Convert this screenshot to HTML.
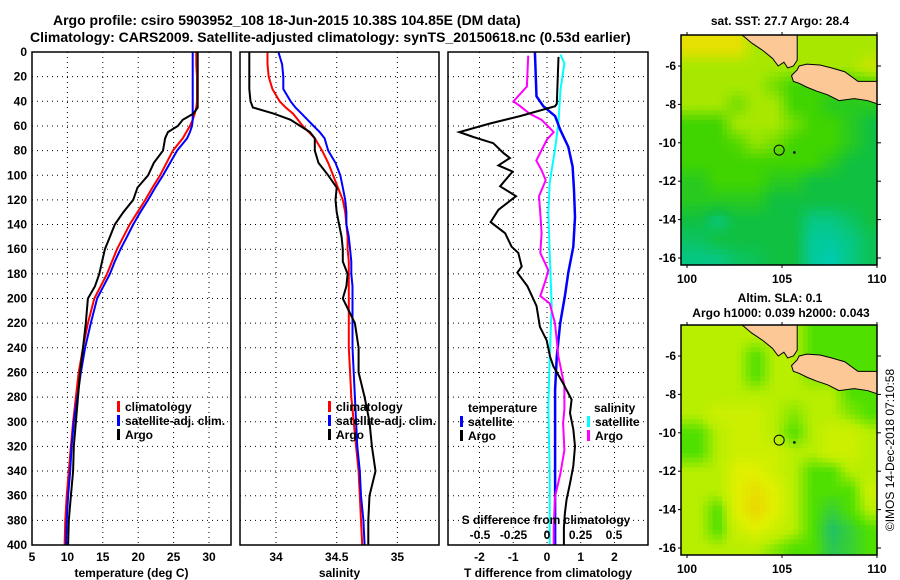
<!DOCTYPE html>
<html><head><meta charset="utf-8"><style>
body{margin:0;background:#fff;}
svg{display:block;font-family:"Liberation Sans",Arial,sans-serif;font-weight:bold;}
</style></head><body>
<svg id="fig" width="900" height="580" viewBox="0 0 900 580" xmlns="http://www.w3.org/2000/svg">
<rect width="900" height="580" fill="#fff"/>
<text x="53" y="25" font-size="14">Argo profile: csiro 5903952_108 18-Jun-2015 10.38S 104.85E (DM data)</text>
<text x="30" y="42" font-size="14">Climatology: CARS2009. Satellite-adjusted climatology: synTS_20150618.nc (0.53d earlier)</text>
<text x="780" y="25" font-size="12" text-anchor="middle">sat. SST: 27.7 Argo: 28.4</text>
<text x="780" y="302" font-size="12" text-anchor="middle">Altim. SLA: 0.1</text>
<text x="781" y="317" font-size="12" text-anchor="middle">Argo h1000: 0.039 h2000: 0.043</text>
<text transform="translate(894,450) rotate(-90)" font-size="12" font-weight="normal" text-anchor="middle">©IMOS 14-Dec-2018 07:10:58</text>
<g id="g"></g>
</svg>
<script>
// ---- data ----
const depths   = [0,10,20,30,40,45,50,55,60,65,70,80,90,100,110,120,130,140,150,160,170,180,190,200,220,240,260,280,300,320,340,360,380,400];
const tArgo    = [28.4,28.4,28.4,28.4,28.4,28.4,27.8,26.3,25.6,24.2,23.8,23.5,22.2,21.4,19.9,19.3,17.9,16.7,16.0,15.3,14.9,14.5,13.9,12.9,12.6,12.2,11.8,11.5,11.2,10.9,10.8,10.5,10.2,10.1];
const tClim    = [28.2,28.2,28.3,28.3,28.3,28.2,28.0,27.7,27.3,26.8,26.3,24.9,24.0,23.1,22.0,21.0,19.9,18.8,17.9,17.0,16.3,15.6,14.7,13.8,12.9,12.2,11.6,11.2,10.8,10.5,10.2,9.9,9.7,9.6];
const tSat     = [27.7,27.7,27.7,27.7,27.7,27.7,27.7,27.7,27.6,27.3,26.9,25.5,24.5,23.5,22.4,21.4,20.3,19.3,18.4,17.5,16.7,16.0,15.1,14.2,13.3,12.5,11.9,11.4,10.9,10.6,10.4,10.1,9.9,9.8];
const sArgo    = [33.78,33.78,33.78,33.78,33.79,33.81,33.98,34.12,34.20,34.28,34.32,34.32,34.35,34.43,34.50,34.49,34.50,34.52,34.54,34.55,34.55,34.59,34.58,34.55,34.65,34.68,34.68,34.73,34.77,34.79,34.82,34.77,34.76,34.76];
const sClim    = [33.93,33.93,33.94,33.97,34.03,34.08,34.14,34.18,34.22,34.27,34.32,34.38,34.43,34.47,34.51,34.55,34.57,34.58,34.59,34.59,34.60,34.60,34.60,34.60,34.60,34.60,34.61,34.62,34.64,34.66,34.68,34.69,34.70,34.71];
const sSat     = [34.02,34.05,34.06,34.06,34.12,34.16,34.21,34.26,34.31,34.36,34.40,34.43,34.49,34.53,34.55,34.57,34.58,34.58,34.60,34.61,34.62,34.62,34.63,34.63,34.63,34.63,34.64,34.65,34.66,34.67,34.69,34.70,34.72,34.73];
const dDepth   = [4,42,44,52,58,65,69,74,82,86,92,97,109,117,128,138,147,158,163,174,179,190,206,223,234,247,255,269,282,293,306,320,336,350,363,374,386,400];
const dTArgo   = [0.34,0.29,0.24,-0.8,-1.69,-2.6,-2.18,-1.59,-1.29,-1.1,-1.44,-1.02,-1.39,-0.92,-1.44,-1.67,-1.24,-1.05,-0.85,-0.75,-0.88,-0.58,-0.31,-0.21,-0.01,0.09,0.19,0.48,0.73,0.68,0.78,0.83,0.78,0.68,0.58,0.53,0.5,0.5];
const dTSatDep = [0,36,44,52,63,77,93,112,134,158,179,198,220,247,274,315,400];
const dTSat    = [-0.36,-0.31,-0.11,0.24,0.39,0.63,0.76,0.8,0.83,0.78,0.63,0.53,0.39,0.29,0.24,0.24,0.24];
const dSSatDep = [2,9,31,58,79,106,131,163,206,247,288,342,400];
const dSSat    = [0.10,0.13,0.10,0.085,0.06,0.02,0.01,0.02,0.035,0.02,0.01,0.02,0.02];
const dSArgoDep= [3,28,40,44,50,55,65,71,88,96,104,117,131,147,163,177,185,198,204,220,247,271,290,301,323,342,361,386,400];
const dSArgo   = [-0.14,-0.15,-0.25,-0.2,-0.13,-0.04,0.05,0,-0.08,-0.04,-0.01,-0.06,-0.05,-0.04,-0.05,0.01,-0.01,-0.05,0.02,0.06,0.085,0.13,0.13,0.12,0.13,0.1,0.06,0.05,0.05];
const depthTicks = [0,20,40,60,80,100,120,140,160,180,200,220,240,260,280,300,320,340,360,380,400];
const tTicks = [5,10,15,20,25,30];
const sTicks = [34,34.5,35];
const dtTicks = [-2,-1,0,1,2];
const dsTicks = [-0.5,-0.25,0,0.25,0.5];
const dsTickLabels = ["-0.5","-0.25","0","0.25","0.5"];
// map fields (1-degree cells, rows from -4.4 southward, cols from 100E)
const sstField = [
[0,0,0,1,1,1,1,1,1,1],[1,1,1,1,1,1,1,1,1,0.5],[1,1,1,1,1.5,2,2,2,2,2],[1,1,1.5,1,1,2,2,2.5,2.5,2.5],
[2,2,1,1,1,1.5,2,2,2.5,3],[2,2,1.8,1.2,1.5,2,2,2,2.5,3],[2,2,2,2,2,2,2,2.5,3,3],[2.5,2,2,2,2.5,2.5,3,3,3,3],
[2.5,2.5,2.5,2.5,3,3,3,3,3,3],[3,3.5,3,3,3,3,3.6,3.6,3.3,3],[3.3,3,3,3,3,3,3.8,3.8,3.6,3.2],[3.6,3.6,3.3,3.2,3,3,3.8,4,3.6,3.2]];
const slaField = [
[2,2,2,2,2,2,3,3,3,3],[2,2,2,3,2,2,3,3,3,3],[2,2,2,3,2,2,2.5,2.5,3,3],[2,2,2,2,2,2,2,2,3,3],
[2,1.5,1.5,1.5,2,2.5,2,2,2.5,3],[3,2,1.5,1.5,2,3,2,1.5,1.5,2],[3,2,1.5,1.5,1.5,2,2,1.5,1.5,2],[2,2,1,1,1.5,2,3,3,2,2],
[2,2,1,0.5,1,2,3,3,3,1.5],[2,3,1,0.3,1,2,3,3.5,3,2],[2,3,1.5,1,1.5,2,3,4,3.5,3],[2,2,2,2,2.5,3,3,3.8,3.5,3]];
const sstColors = ["#e8e000","#a8e800","#40d400","#10c040","#00ccb0"];
const slaColors = ["#f0cc00","#e0f000","#b8ee00","#50e000","#20c068"];
const sumatra = [[102.8,-4.3],[103.4,-4.8],[104.0,-5.2],[104.5,-5.6],[104.8,-6.0],[105.1,-5.8],[105.3,-6.1],[105.6,-6.0],[105.8,-5.7],[105.8,-4.3]];
const java = [[105.9,-6.0],[106.3,-5.9],[107.0,-5.95],[107.6,-6.1],[108.3,-6.3],[109.0,-6.8],[110.1,-6.8],[110.1,-8.0],[109.5,-7.8],[108.8,-7.7],[108.0,-7.8],[107.4,-7.5],[106.8,-7.3],[106.3,-7.1],[105.9,-6.9],[105.6,-6.8],[105.5,-6.5],[105.8,-6.2]];
const argoLon = 104.85, argoLat = -10.38;

// ---- drawing ----
const NS="http://www.w3.org/2000/svg", G=document.getElementById('g');
function el(tag, attrs, parent){const e=document.createElementNS(NS,tag);for(const k in attrs)e.setAttribute(k,attrs[k]);(parent||G).appendChild(e);return e;}
function txt(x,y,s,size,anchor,name){const t=el('text',{x:x,y:y,'font-size':size,'text-anchor':anchor||'start'});t.textContent=s;


return t;}
const Y0=52, Y1=545;
const yD = d => Y0 + (d/400)*(Y1-Y0);
function panel(x0,x1,xs,ticks,labels,xlab,name,gridTicks){
  const g=el('g',{});
  
  
  depthTicks.forEach(d=>{ if(d>0&&d<400) el('line',{x1:x0,x2:x1,y1:yD(d),y2:yD(d),stroke:'#000','stroke-dasharray':'1,4','stroke-width':1},g);});
  (gridTicks||ticks).forEach(v=>{const x=xs(v); if(x>x0+1&&x<x1-1) el('line',{x1:x,x2:x,y1:Y0,y2:Y1,stroke:'#000','stroke-dasharray':'1,4','stroke-width':1},g);});
  ticks.forEach((v,i)=>{const x=xs(v); txt(x,561,labels[i],12,'middle','x-tick-label');});
  txt((x0+x1)/2,577,xlab,12,'middle','x-axis-title');
  return g;
}
function line(xs,xv,dv,color,name,w){
  const pts=xv.map((v,i)=>xs(v).toFixed(1)+','+yD(dv[i]).toFixed(1)).join(' ');
  const p=el('polyline',{points:pts,fill:'none',stroke:color,'stroke-width':w||2});
  
  
}
function frame(x0,x1,name){const r=el('rect',{x:x0,y:Y0,width:x1-x0,height:Y1-Y0,fill:'none',stroke:'#000','stroke-width':1.5});

}
function legendEntry(x,y,color,label){
  const r=el('rect',{x:x,y:y-10,width:3,height:11,fill:color});
  
  
  if(label) txt(x+8,y,label,12,'start','legend-entry');
}

// Panel 1: temperature
const xT = v => 32 + (v-5)*7.08;
panel(32,231,xT,tTicks,tTicks.map(String),'temperature (deg C)','temperature-panel');
depthTicks.forEach(d=>txt(27,yD(d)+4,String(d),12,'end','y-tick-label'));
line(xT,tClim,depths,'#f00','temp-climatology-line');
line(xT,tSat,depths,'#00f','temp-satellite-line');
line(xT,tArgo,depths,'#000','temp-argo-line');
frame(32,231,'temperature-axes');
legendEntry(117,411,'#f00','climatology');legendEntry(117,425,'#00f','satellite-adj. clim.');legendEntry(117,439,'#000','Argo');

// Panel 2: salinity
const xS = v => 276 + (v-34)*121.4;
panel(240,439,xS,sTicks,sTicks.map(String),'salinity','salinity-panel');
line(xS,sClim,depths,'#f00','sal-climatology-line');
line(xS,sSat,depths,'#00f','sal-satellite-line');
line(xS,sArgo,depths,'#000','sal-argo-line');
frame(240,439,'salinity-axes');
legendEntry(328,411,'#f00','climatology');legendEntry(328,425,'#00f','satellite-adj. clim.');legendEntry(328,439,'#000','Argo');

// Panel 3: differences
const xDT = v => 547 + v*33.75;
const xDS = v => 547 + v*134;
panel(448,648,xDT,dtTicks,dtTicks.map(String),'T difference from climatology','difference-panel');
line(xDS,dSSat,dSSatDep,'#0ff','sal-satellite-diff-line');
line(xDT,dTSat,dTSatDep,'#00f','temp-satellite-diff-line',2.5);
line(xDS,dSArgo,dSArgoDep,'#f0f','sal-argo-diff-line');
line(xDT,dTArgo,dDepth,'#000','temp-argo-diff-line');
frame(448,648,'difference-axes');
txt(468,412,'temperature',12,'start','legend-title-temperature');
legendEntry(460,426,'#00f','satellite');legendEntry(460,440,'#000','Argo');
txt(594,412,'salinity',12,'start','legend-title-salinity');
legendEntry(587,426,'#0ff','satellite');legendEntry(587,440,'#f0f','Argo');
txt(546,524,'S difference from climatology',12,'middle','s-axis-title');
dsTicks.forEach((v,i)=>txt(xDS(v),539,dsTickLabels[i],12,'middle','s-tick-label'));

// Maps
function hex2rgb(h){return [1,3,5].map(i=>parseInt(h.substr(i,2),16));}
function colorAt(colors,v){
  v=Math.max(0,Math.min(colors.length-1,v));const i=Math.min(colors.length-2,Math.floor(v)),f=v-i;
  const a=hex2rgb(colors[i]),b=hex2rgb(colors[i+1]);
  return 'rgb('+a.map((c,k)=>Math.round(c+(b[k]-c)*f)).join(',')+')';
}
function sample(field,fr,fc){
  fr=Math.max(0,Math.min(field.length-1,fr));fc=Math.max(0,Math.min(field[0].length-1,fc));
  const r0=Math.min(field.length-2,Math.floor(fr)),c0=Math.min(field[0].length-2,Math.floor(fc));
  const a=fr-r0,b=fc-c0;
  return field[r0][c0]*(1-a)*(1-b)+field[r0][c0+1]*(1-a)*b+field[r0+1][c0]*a*(1-b)+field[r0+1][c0+1]*a*b;
}
function map(top,field,colors,name,step){
  const L=681,R=877,B=top+230;
  const xL = lon => 687 + (lon-100)*19;
  const yL = lat => top + 31 + (-6-lat)*19.2;
  const g=el('g',{});
  
  
  const cp=el('clipPath',{id:'cp'+top},g); el('rect',{x:L,y:top,width:R-L,height:B-top},cp);
  const cg=el('g',{'clip-path':'url(#cp'+top+')'},g);
  for(let lat=-4.3; lat>-16.6; lat-=step){
    for(let lon=99.6; lon<110.3; lon+=step){
      const v=sample(field,(-4.4-lat)-0.5,(lon-100)-0.5);
      const c0=el('rect',{x:xL(lon).toFixed(1),y:yL(lat).toFixed(1),width:(step*19+0.6).toFixed(1),height:(step*19.2+0.6).toFixed(1),fill:colorAt(colors,v)},cg);
      
      
    }
  }
  [sumatra,java].forEach(poly=>{
    const p=el('polygon',{points:poly.map(q=>xL(q[0])+','+yL(q[1])).join(' '),fill:'#fcc896',stroke:'#000','stroke-width':1},cg);
    
    
  });
  const m=el('circle',{cx:xL(argoLon),cy:yL(argoLat),r:5,fill:'none',stroke:'#000','stroke-width':1},g);
  
  
  el('circle',{cx:xL(105.65),cy:yL(-10.5),r:1.3,fill:'#000'},g);
  el('rect',{x:L,y:top,width:R-L,height:B-top,fill:'none',stroke:'#000','stroke-width':1.5},g);
  [-6,-8,-10,-12,-14,-16].forEach(lat=>{txt(676,yL(lat)+4,String(lat),12,'end','lat-tick-label');
    el('line',{x1:R,x2:R+4,y1:yL(lat),y2:yL(lat),stroke:'#000'},g);el('line',{x1:L-3,x2:L,y1:yL(lat),y2:yL(lat),stroke:'#000'},g);});
  [100,105,110].forEach(lon=>{txt(xL(lon),B+18,String(lon),12,'middle','lon-tick-label');
    el('line',{x1:xL(lon),x2:xL(lon),y1:B,y2:B+3,stroke:'#000'},g);el('line',{x1:xL(lon),x2:xL(lon),y1:top-3,y2:top,stroke:'#000'},g);});
}
map(35,sstField,sstColors,'sst-map',0.25);
map(325,slaField,slaColors,'sla-map',0.25);
</script>
</body></html>
